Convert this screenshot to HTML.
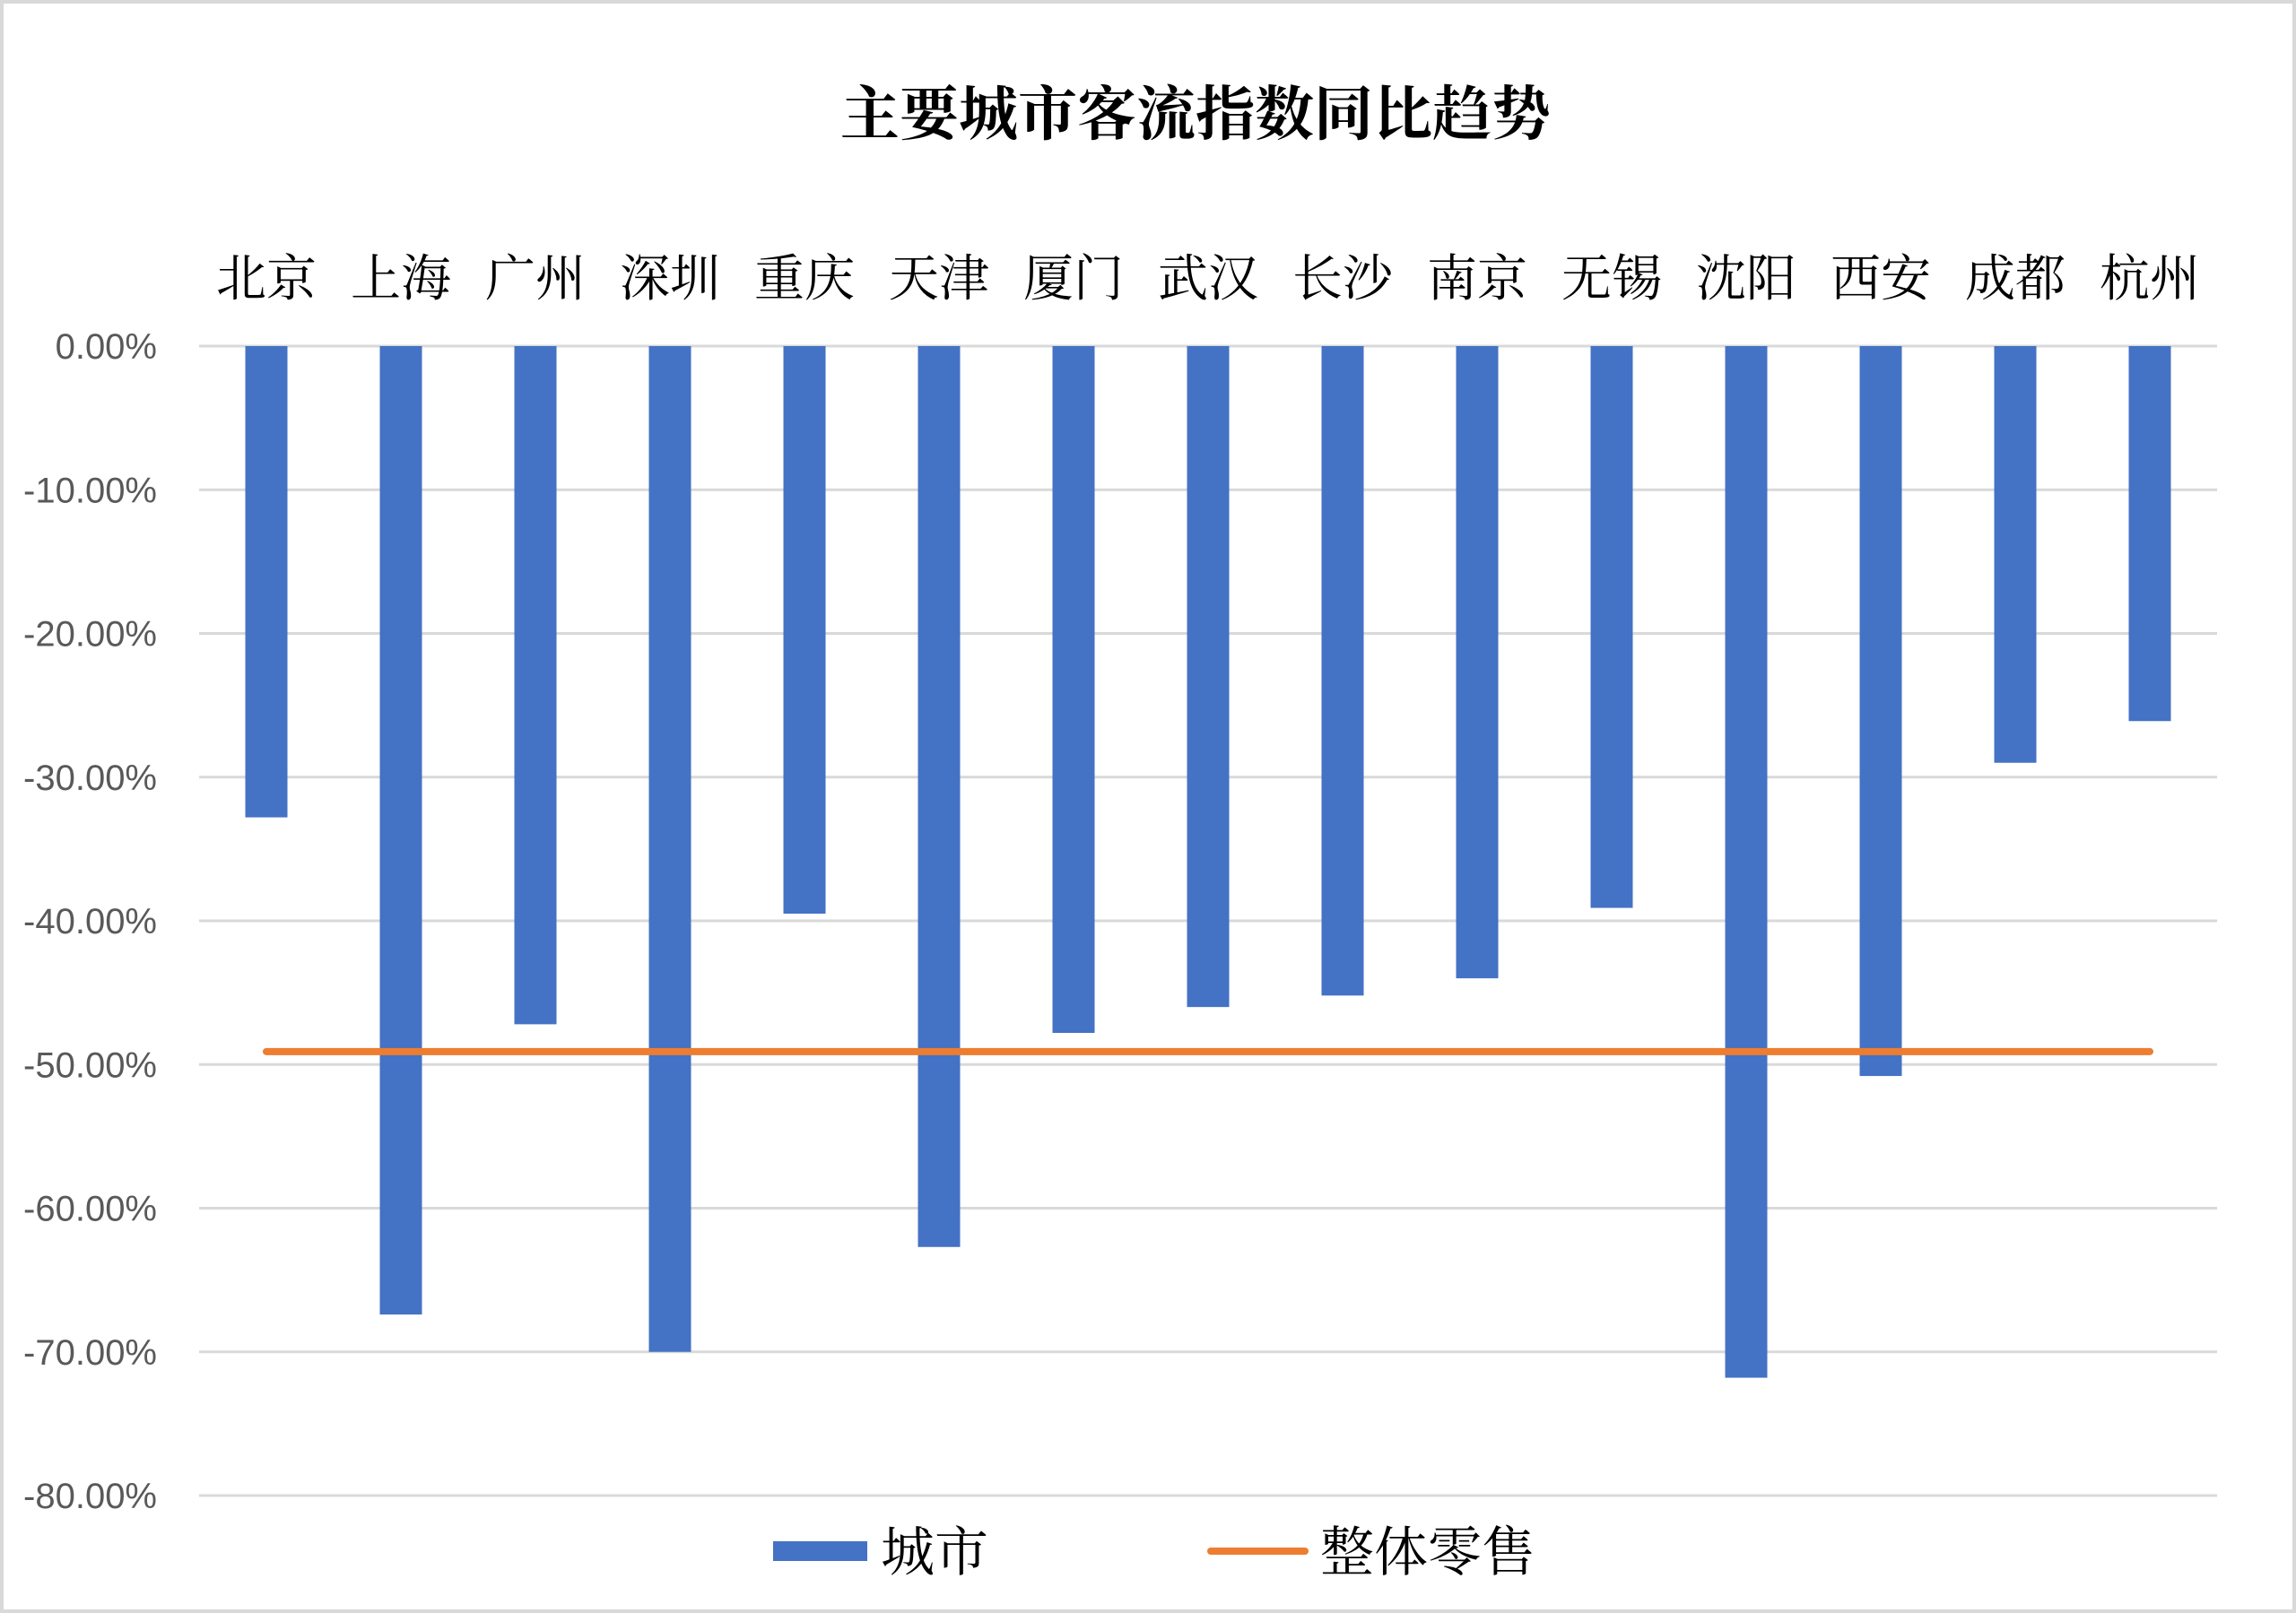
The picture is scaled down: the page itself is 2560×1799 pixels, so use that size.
<!DOCTYPE html>
<html><head><meta charset="utf-8"><style>
html,body{margin:0;padding:0;background:#fff;}
svg{display:block;}
</style></head><body>
<svg width="2560" height="1799" viewBox="0 0 2560 1799" xmlns="http://www.w3.org/2000/svg">
<rect x="2" y="2" width="2556" height="1795" fill="#fff" stroke="#d9d9d9" stroke-width="4"/>
<text x="1333" y="150" text-anchor="middle" font-family="'Liberation Serif','Noto Serif CJK SC',serif" font-weight="bold" font-size="66">主要城市客流指数同比趋势</text>
<g id="grid"></g><g id="bars"></g><g id="ticks"></g><g id="cats"></g><g id="line"></g>
<g>
<rect x="862" y="1719" width="105" height="22" fill="#4472c4"/>
<text x="982" y="1752" font-family="'Liberation Serif','Noto Serif CJK SC',serif" font-size="60">城市</text>
<line x1="1350" y1="1730" x2="1455" y2="1730" stroke="#ed7d31" stroke-width="8" stroke-linecap="round"/>
<text x="1472" y="1752" font-family="'Liberation Serif','Noto Serif CJK SC',serif" font-size="60">整体零售</text>
</g>
</svg>
<script>
const categories=["北京","上海","广州","深圳","重庆","天津","厦门","武汉","长沙","南京","无锡","沈阳","西安","成都","杭州"];
const cityValues=[-32.8,-67.4,-47.2,-70.0,-39.5,-62.7,-47.8,-46.0,-45.2,-44.0,-39.1,-71.8,-50.8,-29.0,-26.1];
const retailValue=-49.1;
const tickValues=[0,-10,-20,-30,-40,-50,-60,-70,-80];
const tickLabels=["0.00%","-10.00%","-20.00%","-30.00%","-40.00%","-50.00%","-60.00%","-70.00%","-80.00%"];
const NS="http://www.w3.org/2000/svg";
const L=222,R=2472,Y0=386,Y80=1668;
const band=(R-L)/categories.length;
function y(v){return Y0+(v/-80)*(Y80-Y0);}
function xc(i){return L+band*(i+0.5);}
function mk(t,a,p){const e=document.createElementNS(NS,t);for(const k in a)e.setAttribute(k,a[k]);p.appendChild(e);return e;}
const grid=document.getElementById('grid'),ticks=document.getElementById('ticks');
tickValues.forEach((v,i)=>{
 const g=mk('line',{x1:L,x2:R,y1:y(v),y2:y(v),stroke:'#d9d9d9','stroke-width':3},grid);
 
 
 const t=mk('text',{x:175,y:y(v)+14,'text-anchor':'end','font-family':"'Liberation Sans',sans-serif",'font-size':40,fill:'#595959'},ticks);
 t.textContent=tickLabels[i];
 
 
});
const bars=document.getElementById('bars'),cats=document.getElementById('cats');
const bw=47;
categories.forEach((c,i)=>{
 const b=mk('rect',{x:xc(i)-bw/2,y:y(0),width:bw,height:y(cityValues[i])-y(0),fill:'#4472c4'},bars);
 
 
 const t=mk('text',{x:xc(i),y:330,'text-anchor':'middle','font-family':"'Liberation Serif','Noto Serif CJK SC',serif",'font-size':56},cats);
 t.textContent=c;
 
 
});
const ln=mk('line',{x1:xc(0),x2:xc(categories.length-1),y1:y(retailValue),y2:y(retailValue),stroke:'#ed7d31','stroke-width':8,'stroke-linecap':'round'},document.getElementById('line'));


</script>
</body></html>
